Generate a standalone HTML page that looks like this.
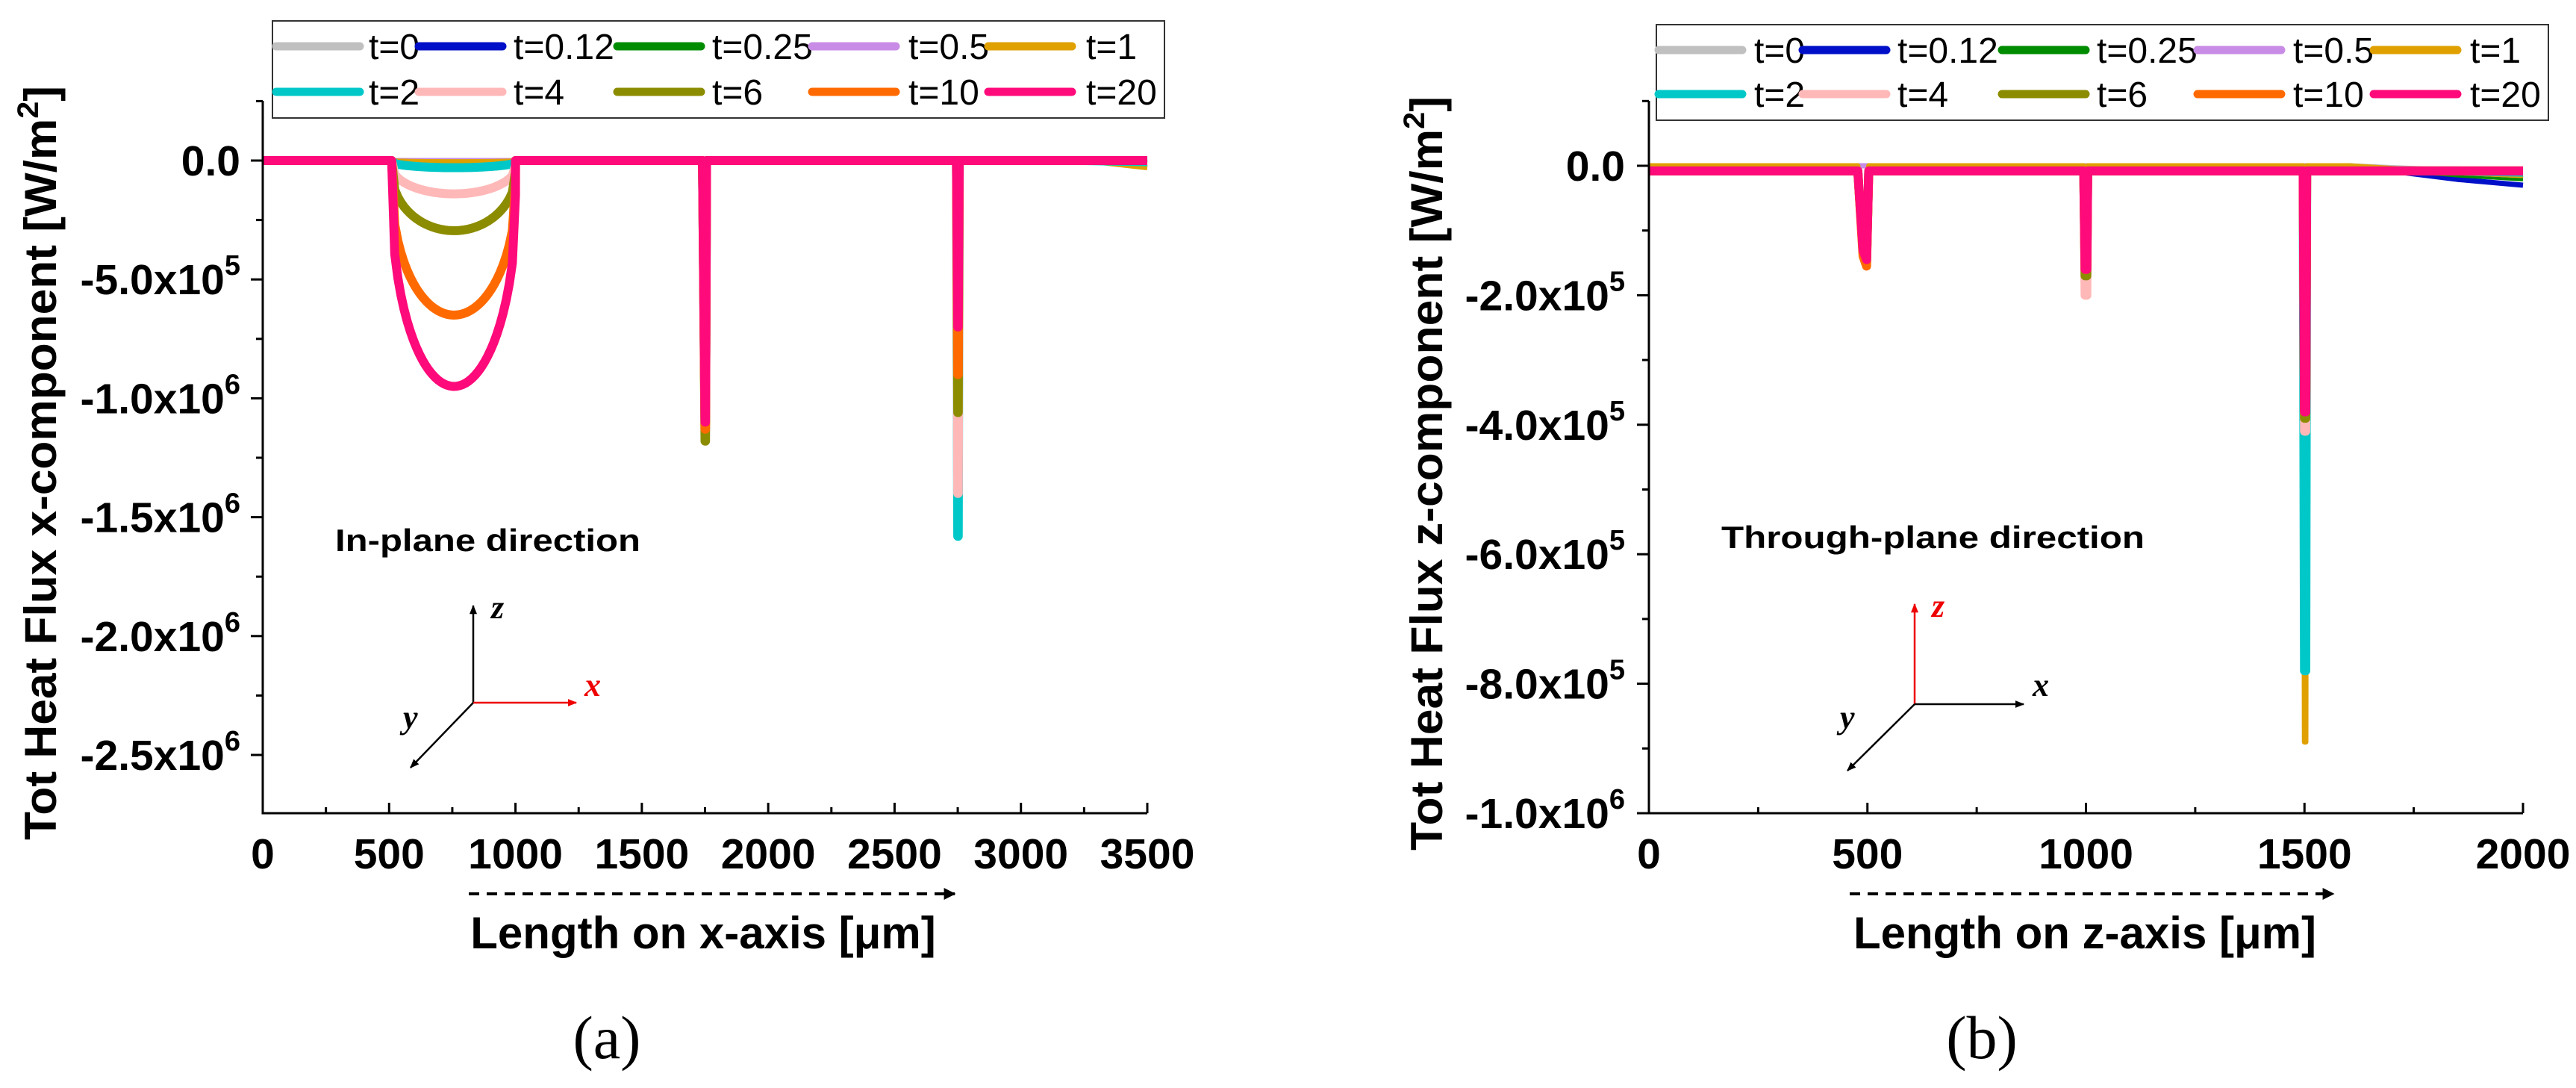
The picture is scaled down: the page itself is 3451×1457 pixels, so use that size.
<!DOCTYPE html>
<html><head><meta charset="utf-8"><style>
html,body{margin:0;padding:0;background:#fff}
svg{display:block}
text{font-family:"Liberation Sans",sans-serif}
text.serif{font-family:"Liberation Serif",serif}
</style></head><body>
<svg id="fig" width="3451" height="1457" viewBox="0 0 3451 1457" xmlns="http://www.w3.org/2000/svg">
<g id="pa"></g>
<g id="pb"></g>
</svg>
<script>
// ---- shared series ----
const seriesNames = ["t=0","t=0.12","t=0.25","t=0.5","t=1","t=2","t=4","t=6","t=10","t=20"];
const seriesColors = ["#c0c0c0","#0010c8","#008c00","#c88ce6","#e0a000","#00c8c8","#ffb8b8","#8c8c00","#ff6a00","#ff0a7a"];
// ---- panel a data (W/m^2) ----
const aBowlMin = [0,0,0,0,-5e3,-3e4,-1.4e5,-2.95e5,-6.5e5,-9.5e5];
const aSpike1750 = [0,0,-6e5,0,0,-1.1e6,-1.15e6,-1.18e6,-1.13e6,-1.1e6];
const aSpike2750 = [0,0,-2e5,0,-3e5,-1.58e6,-1.4e6,-1.06e6,-9e5,-7e5];
const aEnd = [0,-1e4,-1e4,-1.5e4,-3e4,-5e3,0,0,0,0];
const aXTicks = [0,500,1000,1500,2000,2500,3000,3500];
const aYTicks = [0,-5e5,-1e6,-1.5e6,-2e6,-2.5e6];
const aYLabels = [["0.0",""],["-5.0x10","5"],["-1.0x10","6"],["-1.5x10","6"],["-2.0x10","6"],["-2.5x10","6"]];
// ---- panel b data ----
const bSpike500 = [0,0,0,0,-1.4e5,-1.45e5,-1.48e5,-1.5e5,-1.55e5,-1.45e5];
const bSpike1000 = [0,0,0,0,-1.6e5,-1.6e5,-2.0e5,-1.7e5,-1.6e5,-1.6e5];
const bSpike1500 = [0,0,0,0,-8.9e5,-7.8e5,-4.1e5,-3.9e5,-3.8e5,-3.8e5];
const bEnd = [-1e4,-3e4,-2e4,-1.5e4,-1.5e4,-1e4,-8e3,-8e3,-8e3,-8e3];
const bXTicks = [0,500,1000,1500,2000];
const bYTicks = [0,-2e5,-4e5,-6e5,-8e5,-1e6];
const bYLabels = [["0.0",""],["-2.0x10","5"],["-4.0x10","5"],["-6.0x10","5"],["-8.0x10","5"],["-1.0x10","6"]];

const NS="http://www.w3.org/2000/svg";
function mk(tag,attrs,parent){const e=document.createElementNS(NS,tag);for(const k in attrs)e.setAttribute(k,attrs[k]);parent.appendChild(e);return e;}

function drawPanel(g,cfg){
  const sx=v=>cfg.x0+(v-cfg.xmin)/(cfg.xmax-cfg.xmin)*(cfg.x1-cfg.x0);
  const sy=v=>cfg.y0+(v-0)/(cfg.ymin-0)*(cfg.yMinPix-cfg.y0);
  for(let i=0;i<seriesNames.length;i++){
    const p=mk('path',{d:cfg.path(i,sx,sy),fill:'none',stroke:seriesColors[i],'stroke-width':i>=5?12:7,'stroke-linejoin':'round'},g);
    
    
  }
  const ax=mk('path',{d:`M${cfg.x0},${cfg.yTop} V${cfg.yBot} H${cfg.x1}`,fill:'none',stroke:'#000','stroke-width':3},g);
  
  
  cfg.xTicks.forEach((t,k)=>{
    const x=sx(t);
    mk('line',{x1:x,y1:cfg.yBot,x2:x,y2:cfg.yBot-14,stroke:'#000','stroke-width':3},g);
    if(k<cfg.xTicks.length-1){const xm=sx(t+cfg.xMinor);mk('line',{x1:xm,y1:cfg.yBot,x2:xm,y2:cfg.yBot-8,stroke:'#000','stroke-width':3},g);}
    const tx=mk('text',{x:x,y:1163,'font-size':57,'font-weight':'bold','text-anchor':'middle'},g);
    tx.textContent=t;
    
    
  });
  cfg.yTicks.forEach((t,k)=>{
    const y=sy(t);
    mk('line',{x1:cfg.x0,y1:y,x2:cfg.x0-16,y2:y,stroke:'#000','stroke-width':3},g);
    const ym=sy(t-cfg.yMinor);
    if(ym<cfg.yBot) mk('line',{x1:cfg.x0,y1:ym,x2:cfg.x0-9,y2:ym,stroke:'#000','stroke-width':3},g);
    if(k==0){const yu=sy(t+cfg.yMinor); if(yu>cfg.yTop) mk('line',{x1:cfg.x0,y1:yu,x2:cfg.x0-9,y2:yu,stroke:'#000','stroke-width':3},g);}
    const tx=mk('text',{x:cfg.labRight,y:y+20,'font-size':57,'font-weight':'bold','text-anchor':'end'},g);
    
    
    const lb=cfg.yLabels[k];
    if(lb[1]===""){tx.textContent=lb[0];}
    else{const a=mk('tspan',{},tx);a.textContent=lb[0];const b=mk('tspan',{'font-size':38,dy:-26},tx);b.textContent=lb[1];}
  });
  const lg=mk('g',{},g);
  
  
  mk('rect',{x:cfg.leg.x,y:cfg.leg.y,width:cfg.leg.w,height:cfg.leg.h,fill:'#fff',stroke:'#333','stroke-width':2},lg);
  for(let i=0;i<10;i++){
    const r=Math.floor(i/5),c=i%5,yy=cfg.leg.rows[r];
    const e=mk('g',{},lg);
    
    
    mk('line',{x1:cfg.leg.ls[c],y1:yy,x2:cfg.leg.ls[c]+112,y2:yy,stroke:seriesColors[i],'stroke-width':11,'stroke-linecap':'round'},e);
    const t=mk('text',{x:cfg.leg.ts[c],y:yy+17,'font-size':48},e);t.textContent=seriesNames[i];
  }
}

function pathA(i,sx,sy){
  let d=`M${sx(0)},${sy(0)} L${sx(505)},${sy(0)}`;
  const m=aBowlMin[i];
  for(let k=0;k<=40;k++){const x=510+k*(490/40);const u=(x-757)/247;const v=m*Math.sqrt(Math.max(0,1-u*u))*0.85+(m*0.15*(Math.abs(u)<0.98?1:0));d+=` L${sx(x)},${sy(v)}`;}
  d+=` L${sx(1000)},${sy(0)} L${sx(1740)},${sy(0)} L${sx(1750)},${sy(aSpike1750[i])} L${sx(1752)},${sy(aSpike1750[i])} L${sx(1756)},${sy(0)}`;
  d+=` L${sx(2745)},${sy(0)} L${sx(2750)},${sy(aSpike2750[i])} L${sx(2752)},${sy(aSpike2750[i])} L${sx(2756)},${sy(0)}`;
  d+=` L${sx(3250)},${sy(0)} L${sx(3500)},${sy(aEnd[i])}`;
  return d;
}
function pathB(i,sx,sy){
  const off=i>=5?-8e3:0;
  let d=`M${sx(0)},${sy(off)} L${sx(478)},${sy(off)} L${sx(490)},${sy(bSpike500[i]*0.9)} L${sx(498)},${sy(bSpike500[i])} L${sx(503)},${sy(off)}`;
  d+=` L${sx(995)},${sy(off)} L${sx(998)},${sy(bSpike1000[i])} L${sx(1002)},${sy(bSpike1000[i])} L${sx(1004)},${sy(off)}`;
  d+=` L${sx(1497)},${sy(off)} L${sx(1500)},${sy(bSpike1500[i])} L${sx(1503)},${sy(bSpike1500[i])} L${sx(1505)},${sy(off)}`;
  d+=` L${sx(1600)},${sy(off)} L${sx(1850)},${sy(Math.min(off,bEnd[i]*0.7))} L${sx(2000)},${sy(Math.min(off,bEnd[i]))}`;
  return d;
}

drawPanel(document.getElementById('pa'),{x0:352,x1:1537,xmin:0,xmax:3500,y0:215,ymin:-2.5e6,yMinPix:1011,yTop:135,yBot:1089,
  xTicks:aXTicks,xMinor:250,yTicks:aYTicks,yMinor:2.5e5,yLabels:aYLabels,labRight:322,path:pathA,
  leg:{x:365,y:28,w:1195,h:130,rows:[62,123],ls:[370,561,827,1088,1324],ts:[494,688,954,1217,1455]}});
drawPanel(document.getElementById('pb'),{x0:2209,x1:3380,xmin:0,xmax:2000,y0:222,ymin:-1e6,yMinPix:1089,yTop:135,yBot:1089,
  xTicks:bXTicks,xMinor:250,yTicks:bYTicks,yMinor:1e5,yLabels:bYLabels,labRight:2177,path:pathB,
  leg:{x:2219,y:33,w:1195,h:128,rows:[67,126],ls:[2222,2415,2682,2944,3180],ts:[2350,2542,2809,3072,3309]}});
</script>
<svg width="3451" height="1457" style="position:absolute;left:0;top:0" xmlns="http://www.w3.org/2000/svg">
<defs><marker id="ar" viewBox="0 0 10 10" refX="9" refY="5" markerWidth="5" markerHeight="5" orient="auto"><path d="M0,1 L10,5 L0,9z" fill="#000"/></marker>
<marker id="arr" viewBox="0 0 10 10" refX="9" refY="5" markerWidth="5" markerHeight="5" orient="auto"><path d="M0,1 L10,5 L0,9z" fill="#e00"/></marker>
<marker id="ad" viewBox="0 0 10 10" refX="9" refY="5" markerWidth="4" markerHeight="4" orient="auto"><path d="M0,0 L10,5 L0,10z" fill="#000"/></marker></defs>
<g><text transform="translate(75,620) rotate(-90)" font-size="60" font-weight="bold" text-anchor="middle" textLength="1010" lengthAdjust="spacingAndGlyphs">Tot Heat Flux x-component [W/m<tspan font-size="40" dy="-24">2</tspan><tspan dy="24">]</tspan></text></g>
<g><text transform="translate(1932,634) rotate(-90)" font-size="60" font-weight="bold" text-anchor="middle" textLength="1010" lengthAdjust="spacingAndGlyphs">Tot Heat Flux z-component [W/m<tspan font-size="40" dy="-24">2</tspan><tspan dy="24">]</tspan></text></g>
<text x="942" y="1270" font-size="60" font-weight="bold" text-anchor="middle">Length on x-axis [μm]</text>
<text x="2793" y="1270" font-size="60" font-weight="bold" text-anchor="middle">Length on z-axis [μm]</text>
<line x1="628" y1="1197" x2="1279" y2="1197" stroke="#000" stroke-width="4" stroke-dasharray="14,10" marker-end="url(#ad)"/>
<line x1="2478" y1="1197" x2="3126" y2="1197" stroke="#000" stroke-width="4" stroke-dasharray="14,10" marker-end="url(#ad)"/>
<text class="serif" x="813" y="1417" font-size="82" text-anchor="middle">(a)</text>
<text class="serif" x="2655" y="1417" font-size="82" text-anchor="middle">(b)</text>
<text x="449" y="738" font-size="42" font-weight="bold" textLength="409" lengthAdjust="spacingAndGlyphs">In-plane direction</text>
<text x="2306" y="734" font-size="42" font-weight="bold" textLength="567" lengthAdjust="spacingAndGlyphs">Through-plane direction</text>
<g font-style="italic" font-weight="bold" font-size="44">
<line x1="634" y1="941" x2="634" y2="811" stroke="#000" stroke-width="2.5" marker-end="url(#ar)"/>
<line x1="634" y1="941" x2="772" y2="941" stroke="#e00" stroke-width="2.5" marker-end="url(#arr)"/>
<line x1="634" y1="941" x2="550" y2="1028" stroke="#000" stroke-width="2.5" marker-end="url(#ar)"/>
<text class="serif" x="658" y="828">z</text><text class="serif" x="783" y="932" fill="#e00">x</text><text class="serif" x="540" y="975">y</text></g>
<g font-style="italic" font-weight="bold" font-size="44">
<line x1="2565" y1="943" x2="2565" y2="809" stroke="#e00" stroke-width="2.5" marker-end="url(#arr)"/>
<line x1="2565" y1="943" x2="2711" y2="943" stroke="#000" stroke-width="2.5" marker-end="url(#ar)"/>
<line x1="2565" y1="943" x2="2475" y2="1032" stroke="#000" stroke-width="2.5" marker-end="url(#ar)"/>
<text class="serif" x="2588" y="826" fill="#e00">z</text><text class="serif" x="2723" y="932">x</text><text class="serif" x="2465" y="975">y</text></g>
</svg>
</body></html>
